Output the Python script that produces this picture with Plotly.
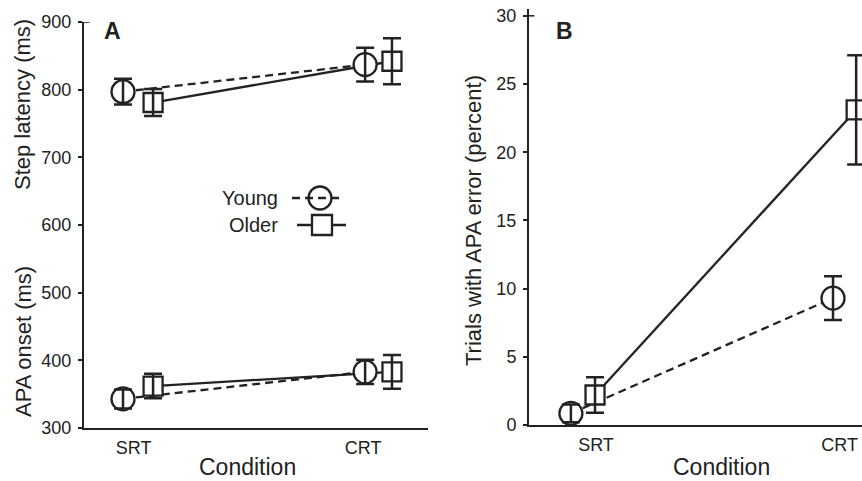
import plotly.graph_objects as go

# ---------------- data ----------------
conditions = ["SRT", "CRT"]
cond_pos = [1, 2]

# Panel A (ms)
young_step = [797, 837]
young_step_err = [19, 25]
older_step = [781, 842]
older_step_err = [20, 34]
young_apa = [343, 383]
young_apa_err = [14, 18]
older_apa = [362, 383]
older_apa_err = [18, 25]
# horizontal offsets of each group at SRT / CRT (panel A)
young_off_A = [-0.046, 0.009]
older_off_A = [0.085, 0.126]

# Panel B (percent)
young_err_pct = [0.85, 9.3]
young_err_pct_se = [0.65, 1.6]
older_err_pct = [2.2, 23.1]
older_err_pct_se = [1.3, 4.0]
young_off_B = [-0.103, -0.027]
older_off_B = [-0.004, 0.068]

yticks_A = [300, 400, 500, 600, 700, 800, 900]
yticks_B = [0, 5, 10, 15, 20, 25, 30]

# ---------------- style ----------------
INK = "#222222"
FONT = "Liberation Sans, Arial, Helvetica, sans-serif"
W, H = 862, 481
DASH = "8px,5px"
LW = 2.3


def px(x):
    return x / W


def py(y):
    return 1 - y / H


def xs(offs):
    return [c + o for c, o in zip(cond_pos, offs)]


fig = go.Figure()


def add_group(xv, yv, ev, symbol, size, dash, xa, ya):
    # connecting line
    fig.add_trace(go.Scatter(x=xv, y=yv, mode="lines", xaxis=xa, yaxis=ya,
                             line=dict(color=INK, width=LW, dash=dash),
                             showlegend=False, hoverinfo="skip"))
    return (xv, yv, ev, symbol, size, xa, ya)


def add_markers(g):
    xv, yv, ev, symbol, size, xa, ya = g
    fig.add_trace(go.Scatter(x=xv, y=yv, mode="markers", xaxis=xa, yaxis=ya,
                             marker=dict(symbol=symbol, size=size, color="white",
                                         line=dict(color=INK, width=LW)),
                             showlegend=False))


def add_err(g):
    xv, yv, ev, symbol, size, xa, ya = g
    fig.add_trace(go.Scatter(x=xv, y=yv, mode="markers", xaxis=xa, yaxis=ya,
                             marker=dict(size=1, color="rgba(0,0,0,0)"),
                             error_y=dict(type="data", array=ev, visible=True,
                                          color=INK, thickness=2.5, width=9),
                             showlegend=False, hoverinfo="skip"))


groups = []
# panel A
groups.append(add_group(xs(young_off_A), young_step, young_step_err, "circle", 23, DASH, "x", "y"))
groups.append(add_group(xs(older_off_A), older_step, older_step_err, "square", 19, "solid", "x", "y"))
groups.append(add_group(xs(young_off_A), young_apa, young_apa_err, "circle", 23, DASH, "x", "y"))
groups.append(add_group(xs(older_off_A), older_apa, older_apa_err, "square", 19, "solid", "x", "y"))
# panel B
groups.append(add_group(xs(young_off_B), young_err_pct, young_err_pct_se, "circle", 23, DASH, "x2", "y2"))
groups.append(add_group(xs(older_off_B), older_err_pct, older_err_pct_se, "square", 19, "solid", "x2", "y2"))
for g in groups:
    add_markers(g)
for g in groups:
    add_err(g)

axis_common = dict(showline=True, linewidth=2, linecolor=INK, showgrid=False,
                   zeroline=False, automargin=False,
                   tickfont=dict(family=FONT, size=18, color=INK))

fig.update_layout(
    width=W, height=H, margin=dict(l=0, r=0, t=0, b=0, pad=0, autoexpand=False),
    paper_bgcolor="white", plot_bgcolor="white", showlegend=False,
    font=dict(family=FONT, color=INK),
    xaxis=dict(domain=[px(84), px(428)], range=[0.784, 2.283], anchor="y",
               tickvals=cond_pos, ticktext=conditions, ticks="", ticklabelstandoff=2,
               **axis_common),
    yaxis=dict(domain=[py(428), py(22)], range=[300, 900], anchor="x",
               tickvals=yticks_A, ticks="outside", ticklen=4, tickwidth=1.5,
               tickcolor=INK, ticklabelstandoff=3, **axis_common),
    xaxis2=dict(domain=[px(529), 1.0], range=[0.725, 2.092], anchor="y2",
                tickvals=cond_pos, ticktext=conditions, ticks="", ticklabelstandoff=2,
                **axis_common),
    yaxis2=dict(domain=[py(425), py(9)], range=[0, 30.5], anchor="x2",
                tickvals=yticks_B, ticks="outside", ticklen=4, tickwidth=1.5,
                tickcolor=INK, ticklabelstandoff=3, **axis_common),
)

ann = []


def text(x, y, s, size, angle=0, bold=False, xanchor="center"):
    ann.append(dict(x=px(x), y=py(y), xref="paper", yref="paper", text=s,
                    showarrow=False, textangle=angle, xanchor=xanchor, yanchor="middle",
                    font=dict(family=FONT, size=size, color=INK,
                              weight="bold" if bold else "normal")))


text(112, 31, "A", 23, bold=True)
text(564, 31, "B", 23, bold=True)
text(23, 105, "Step latency (ms)", 22, angle=-90)
text(23, 342, "APA onset (ms)", 22, angle=-90)
text(474, 221, "Trials with APA error (percent)", 22, angle=-90)
text(247, 467, "Condition", 23)
text(721, 467, "Condition", 23)
text(280, 198, "Young", 20, xanchor="right")
text(280, 225, "Older", 20, xanchor="right")
fig.update_layout(annotations=ann)

# custom legend symbols + small inward top ticks
shapes = [
    dict(type="line", xref="paper", yref="paper", x0=px(292), x1=px(344), y0=py(198), y1=py(198),
         line=dict(color=INK, width=LW, dash=DASH)),
    dict(type="circle", xref="paper", yref="paper", xsizemode="pixel", ysizemode="pixel",
         xanchor=px(320), yanchor=py(198), x0=-11.5, x1=11.5, y0=-11.5, y1=11.5,
         line=dict(color=INK, width=LW), fillcolor="rgba(0,0,0,0)"),
    dict(type="line", xref="paper", yref="paper", x0=px(297), x1=px(346), y0=py(225), y1=py(225),
         line=dict(color=INK, width=LW)),
    dict(type="rect", xref="paper", yref="paper", xsizemode="pixel", ysizemode="pixel",
         xanchor=px(322), yanchor=py(225), x0=-10, x1=10, y0=-10, y1=10,
         line=dict(color=INK, width=LW), fillcolor="white"),
    dict(type="line", xref="x domain", yref="y", x0=0, x1=0.016, y0=yticks_A[-1], y1=yticks_A[-1],
         line=dict(color=INK, width=1.5)),
    dict(type="line", xref="x2 domain", yref="y2", x0=0, x1=0.016, y0=yticks_B[-1], y1=yticks_B[-1],
         line=dict(color=INK, width=1.5)),
]
fig.update_layout(shapes=shapes)

fig.write_html("out.html")
